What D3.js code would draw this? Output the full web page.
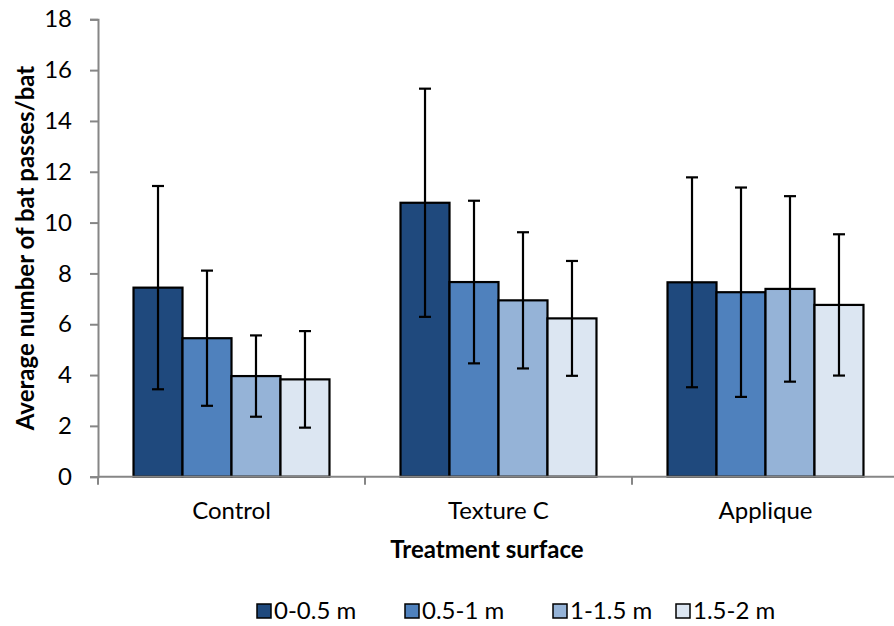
<!DOCTYPE html>
<html>
<head>
<meta charset="utf-8">
<script src="https://cdn.jsdelivr.net/npm/d3@7"></script>
<style>
  html, body { margin: 0; padding: 0; background: #fff; }
  svg { display: block; }
  text { font-family: Lato, "Open Sans", sans-serif; fill: #000; }
</style>
</head>
<body>
<svg id="chart" width="894" height="626"></svg>
<script>
// Treatment surfaces on the x axis
const categories = ["Control", "Texture C", "Applique"];
// Distance bands (series)
const series = ["0-0.5 m", "0.5-1 m", "1-1.5 m", "1.5-2 m"];
const colors = ["#1f497d", "#4f81bd", "#95b3d7", "#dce6f2"];
// Mean passes per bat, one array per surface, in series order
const controlMeans  = [7.44, 5.45, 3.96, 3.83];
const textureMeans  = [10.78, 7.66, 6.94, 6.23];
const appliqueMeans = [7.65, 7.26, 7.39, 6.76];
// Error bar half-widths
const controlErr  = [4.00, 2.66, 1.60, 1.90];
const textureErr  = [4.49, 3.20, 2.68, 2.26];
const appliqueErr = [4.13, 4.12, 3.65, 2.78];
const yTicks = [0, 2, 4, 6, 8, 10, 12, 14, 16, 18];

const means = [controlMeans, textureMeans, appliqueMeans];
const errs = [controlErr, textureErr, appliqueErr];
const rows = [];
categories.forEach((c, i) => series.forEach((s, j) => {
  rows.push({ cat: c, ser: s, idx: j, v: means[i][j], e: errs[i][j] });
}));

const svg = d3.select("#chart");
const plotLeft = 98, plotRight = 899, plotTop = 19.3, plotBottom = 476.7;
const axisColor = "#868686";
const fontSize = "24px";

const x0 = d3.scaleBand().domain(categories).range([plotLeft, plotRight]).padding(0);
const x1 = d3.scaleBand().domain(series).range([0, x0.bandwidth()])
  .paddingInner(0).paddingOuter(0.725);
const y = d3.scaleLinear().domain([0, 18]).range([plotBottom, plotTop]);

// Bars
svg.append("g").selectAll("rect").data(rows).join("rect")
  .attr("x", d => x0(d.cat) + x1(d.ser))
  .attr("y", d => y(d.v))
  .attr("width", x1.bandwidth())
  .attr("height", d => y(0) - y(d.v))
  .attr("fill", d => colors[d.idx])
  .attr("stroke", "#000")
  .attr("stroke-width", 2.2);

// Error bars
const eb = svg.append("g").attr("stroke", "#000").attr("stroke-width", 2.2);
rows.forEach(d => {
  const cx = x0(d.cat) + x1(d.ser) + x1.bandwidth() / 2;
  eb.append("line").attr("x1", cx).attr("x2", cx)
    .attr("y1", y(d.v + d.e)).attr("y2", y(d.v - d.e));
  [d.v + d.e, d.v - d.e].forEach(t => {
    eb.append("line").attr("x1", cx - 6).attr("x2", cx + 6)
      .attr("y1", y(t)).attr("y2", y(t));
  });
});

// Y axis
const yAxis = svg.append("g").attr("transform", `translate(${plotLeft},0)`)
  .call(d3.axisLeft(y).tickValues(yTicks).tickSize(8).tickPadding(18));
yAxis.select(".domain").attr("stroke", axisColor).attr("stroke-width", 2);
yAxis.selectAll(".tick line").attr("stroke", axisColor).attr("stroke-width", 2);
yAxis.selectAll(".tick text").style("font-size", fontSize).attr("fill", "#000")
  .style("font-family", "Lato, sans-serif");

// X axis: line with ticks at category boundaries
const xg = svg.append("g");
xg.append("line").attr("x1", plotLeft).attr("x2", plotRight)
  .attr("y1", plotBottom).attr("y2", plotBottom)
  .attr("stroke", axisColor).attr("stroke-width", 2);
categories.forEach(c => {
  const bx = x0(c);
  xg.append("line").attr("x1", bx).attr("x2", bx)
    .attr("y1", plotBottom).attr("y2", plotBottom + 8)
    .attr("stroke", axisColor).attr("stroke-width", 2);
  xg.append("text").attr("x", bx + x0.bandwidth() / 2).attr("y", 519)
    .attr("text-anchor", "middle").style("font-size", fontSize).text(c);
});

// Axis titles
svg.append("text").attr("x", 487).attr("y", 558).attr("text-anchor", "middle")
  .style("font-size", fontSize).style("font-weight", "bold").text("Treatment surface");
svg.append("text").attr("transform", "translate(34,248) rotate(-90)")
  .attr("text-anchor", "middle").style("font-size", fontSize).style("font-weight", "bold")
  .text("Average number of bat passes/bat");

// Legend
const legendX = [257, 405, 553, 676];
const lg = svg.append("g");
series.forEach((s, i) => {
  lg.append("rect").attr("x", legendX[i]).attr("y", 604).attr("width", 14).attr("height", 14)
    .attr("fill", colors[i]).attr("stroke", "#000").attr("stroke-width", 1.5);
  lg.append("text").attr("x", legendX[i] + 17).attr("y", 619)
    .style("font-size", fontSize).text(s);
});
</script>
</body>
</html>
